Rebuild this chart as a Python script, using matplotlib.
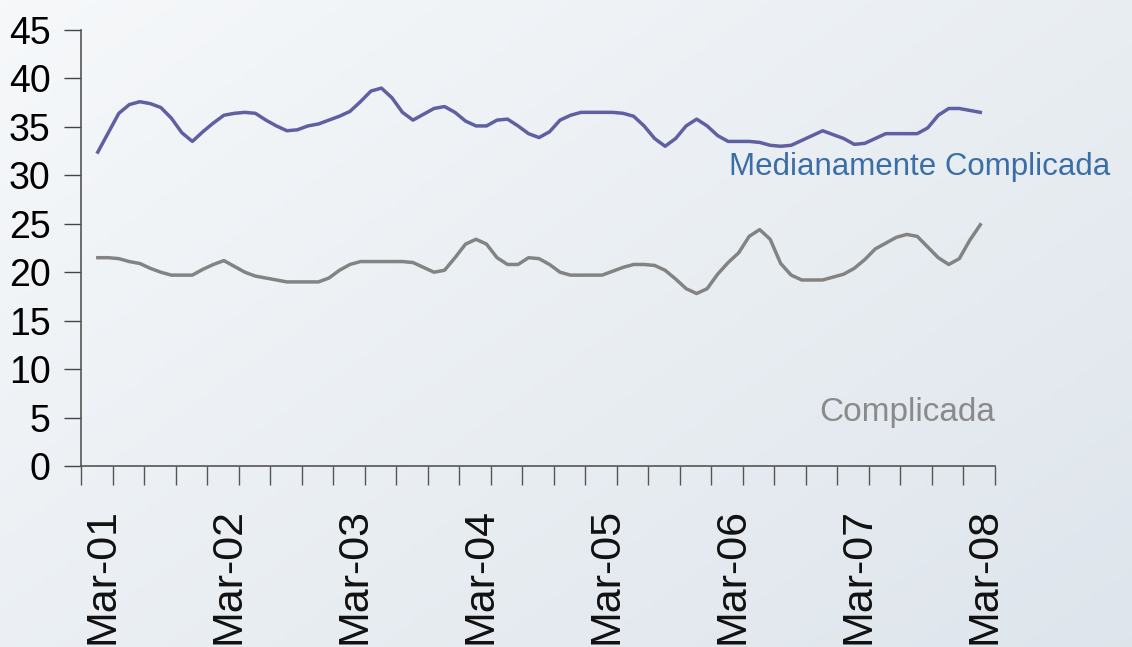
import numpy as np
import matplotlib
matplotlib.use("Agg")
import matplotlib.pyplot as plt
import matplotlib.transforms as mtransforms

plt.rcParams['font.family'] = ['Liberation Sans', 'DejaVu Sans']

# monthly series, Mar-01 .. Mar-08
medianamente = [32.4, 34.4, 36.4, 37.3, 37.6, 37.4, 37.0, 35.9, 34.4, 33.5,
                34.5, 35.4, 36.2, 36.4, 36.5, 36.4, 35.7, 35.1, 34.6, 34.7,
                35.1, 35.3, 35.7, 36.1, 36.6, 37.6, 38.7, 39.0, 38.0, 36.5,
                35.7, 36.3, 36.9, 37.1, 36.5, 35.6, 35.1, 35.1, 35.7, 35.8,
                35.1, 34.3, 33.9, 34.5, 35.7, 36.2, 36.5, 36.5, 36.5, 36.5,
                36.4, 36.1, 35.1, 33.8, 33.0, 33.8, 35.1, 35.8, 35.1, 34.1,
                33.5, 33.5, 33.5, 33.4, 33.1, 33.0, 33.1, 33.6, 34.1, 34.6,
                34.2, 33.8, 33.2, 33.3, 33.8, 34.3, 34.3, 34.3, 34.3, 34.9,
                36.2, 36.9, 36.9, 36.7, 36.5]
complicada = [21.5, 21.5, 21.4, 21.1, 20.9, 20.4, 20.0, 19.7, 19.7, 19.7,
              20.3, 20.8, 21.2, 20.6, 20.0, 19.6, 19.4, 19.2, 19.0, 19.0,
              19.0, 19.0, 19.4, 20.2, 20.8, 21.1, 21.1, 21.1, 21.1, 21.1,
              21.0, 20.5, 20.0, 20.2, 21.5, 22.9, 23.4, 22.9, 21.5, 20.8,
              20.8, 21.5, 21.4, 20.8, 20.0, 19.7, 19.7, 19.7, 19.7, 20.1,
              20.5, 20.8, 20.8, 20.7, 20.2, 19.3, 18.3, 17.8, 18.3, 19.8,
              21.0, 22.0, 23.7, 24.4, 23.4, 20.9, 19.7, 19.2, 19.2, 19.2,
              19.5, 19.8, 20.4, 21.3, 22.4, 23.0, 23.6, 23.9, 23.7, 22.6,
              21.5, 20.8, 21.4, 23.3, 24.9]
year_labels = ['Mar-01', 'Mar-02', 'Mar-03', 'Mar-04', 'Mar-05', 'Mar-06', 'Mar-07', 'Mar-08']

months = np.arange(len(medianamente))

fig = plt.figure(figsize=(11.32, 6.47), dpi=100)

# soft gradient background
bg = fig.add_axes([0, 0, 1, 1], zorder=-10)
yy, xx = np.mgrid[0:1:200j, 0:1:200j]
t = 0.55 * xx + 0.45 * yy
c0 = np.array([0.965, 0.973, 0.980])
c1 = np.array([0.870, 0.898, 0.925])
grad = c0 + (c1 - c0) * t[..., None]
bg.imshow(grad, aspect='auto', extent=[0, 1, 0, 1], origin='upper')
bg.axis('off')

ax = fig.add_axes([81 / 1132, 1 - 466 / 647, (995 - 81) / 1132, (466 - 30) / 647])
ax.patch.set_alpha(0)

ax.plot(months, medianamente, color='#5f5fa2', lw=2.5, solid_joinstyle='round')
ax.plot(months, complicada, color='#838383', lw=2.5, solid_joinstyle='round')

ax.set_xlim(-1.6, 85.4)
ax.set_ylim(0, 45)
ax.set_yticks(np.arange(0, 46, 5))
ax.tick_params(axis='y', labelsize=27, length=12, width=1, color='#444444', pad=10)
ax.set_xticks(-1.6 + 3 * np.arange(30))
ax.tick_params(axis='x', length=14, width=1, color='#555555', labelbottom=False)

for side in ['top', 'right']:
    ax.spines[side].set_visible(False)
for side in ['left', 'bottom']:
    ax.spines[side].set_color('#555555')
    ax.spines[side].set_linewidth(1.2)

# year labels below the axis
trans = mtransforms.blended_transform_factory(ax.transData, fig.transFigure)
for i, lab in enumerate(year_labels):
    ax.text(12 * i + 0.4, 1 - 508 / 647, lab, transform=trans, rotation=90,
            ha='center', va='top', fontsize=31, color='#111111')

ax.text(60.1, 32.4, 'Medianamente Complicada', ha='left', va='top',
        fontsize=22.5, color='#3a6ea5', clip_on=False)
ax.text(77.0, 7.1, 'Complicada', ha='center', va='top',
        fontsize=24, color='#8a8a8a', clip_on=False)

fig.savefig('out.png', dpi=100)
